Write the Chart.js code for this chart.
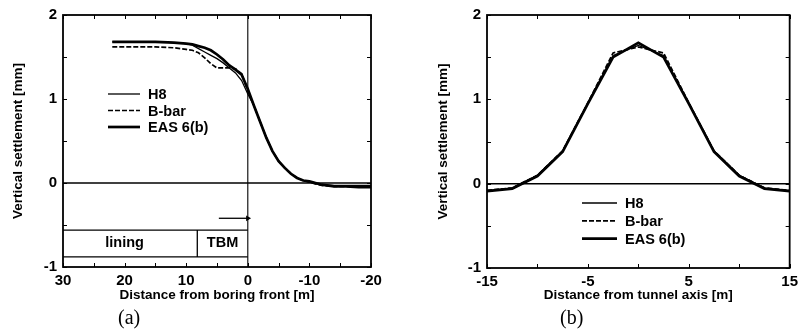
<!DOCTYPE html>
<html>
<head>
<meta charset="utf-8">
<script src="https://cdn.jsdelivr.net/npm/chart.js@4/dist/chart.umd.min.js"></script>
<style>
  body { margin: 0; background: #fff; }
  #wrap { position: relative; width: 803px; height: 336px; overflow: hidden; background: #fff; }
  canvas { position: absolute; top: 0; }
  #cvA { left: 0; }
  #cvB { left: 400px; }
  .tag { position: absolute; font: 20px "Liberation Serif", "DejaVu Serif", serif; color: #000; }
</style>
</head>
<body>
<div id="wrap">
  <canvas id="cvA" width="400" height="336"></canvas>
  <canvas id="cvB" width="403" height="336"></canvas>
  <div class="tag" style="left:118px;top:306px">(a)</div>
  <div class="tag" style="left:560px;top:306px">(b)</div>
</div>
<script>
// (a) settlement along the tunnel, x = distance from the boring front [m]
const frontDist = [22, 15, 12, 10, 9, 8, 7, 6, 5, 4, 3, 2, 1, 0, -1, -2, -3, -4, -5, -6, -7, -8, -9, -10, -11, -12, -14, -16, -18, -20];
const frontH8   = [1.68, 1.68, 1.67, 1.66, 1.64, 1.60, 1.56, 1.52, 1.48, 1.43, 1.37, 1.31, 1.22, 1.06, 0.92, 0.73, 0.54, 0.38, 0.26, 0.18, 0.11, 0.06, 0.03, 0.01, -0.01, -0.02, -0.03, -0.03, -0.03, -0.03];
const frontBbar = [1.62, 1.62, 1.61, 1.59, 1.58, 1.55, 1.49, 1.42, 1.37, 1.37, 1.37, 1.36, 1.30, 1.10, 0.92, 0.73, 0.54, 0.38, 0.26, 0.18, 0.11, 0.06, 0.03, 0.01, -0.01, -0.03, -0.04, -0.04, -0.05, -0.05];
const frontEAS  = [1.68, 1.68, 1.67, 1.66, 1.65, 1.63, 1.61, 1.58, 1.53, 1.47, 1.40, 1.35, 1.29, 1.12, 0.92, 0.73, 0.54, 0.38, 0.26, 0.18, 0.11, 0.06, 0.03, 0.02, 0.00, -0.02, -0.04, -0.04, -0.05, -0.05];

// shield sketch under the curve
const faceDist = 0;        // boring front
const liningEnd = 8.2;     // joint between lining and TBM
const shieldTop = -0.56;
const shieldBottom = -0.88;
const arrowStart = 4.7;
const arrowLevel = -0.42;

// (b) transverse trough, x = distance from the tunnel axis [m]
const axisDist = [-15, -12.5, -10, -7.5, -5, -2.5, 0, 2.5, 5, 7.5, 10, 12.5, 15];
const axisH8   = [-0.08, -0.05, 0.10, 0.39, 0.96, 1.52, 1.64, 1.52, 0.96, 0.39, 0.10, -0.05, -0.08];
const axisBbar = [-0.08, -0.05, 0.10, 0.39, 0.96, 1.55, 1.62, 1.55, 0.96, 0.39, 0.10, -0.05, -0.08];
const axisEAS  = [-0.09, -0.06, 0.09, 0.38, 0.95, 1.50, 1.67, 1.50, 0.95, 0.38, 0.09, -0.06, -0.09];

const seriesNames = ['H8', 'B-bar', 'EAS 6(b)'];
const yTicksMin = -1, yTicksMax = 2;

Chart.defaults.font.family = '"Liberation Sans", Arial, sans-serif';
Chart.defaults.color = '#000';
Chart.defaults.animation = false;

const pts = (xs, ys) => xs.map((x, i) => ({ x: x, y: ys[i] }));

// series styles: thin solid, dashed, thick solid
const styles = [
    { borderWidth: 1.3, borderDash: [] },
    { borderWidth: 1.7, borderDash: [5, 2] },
    { borderWidth: 2.7, borderDash: [] }
];

function seriesSets(xs, ysList) {
    return ysList.map((ys, i) => ({
        label: seriesNames[i],
        data: pts(xs, ys),
        borderColor: '#000',
        borderWidth: styles[i].borderWidth,
        borderDash: styles[i].borderDash,
        pointRadius: 0,
        tension: 0,
        fill: false,
        isSeries: true
    }));
}

function guide(data, width) {
    return { data: data, borderColor: '#000', borderWidth: width || 1, pointRadius: 0, fill: false, tension: 0 };
}

// frame with inward ticks on all four sides
const frameTicks = {
    id: 'frameTicks',
    afterDatasetsDraw(chart) {
        const { ctx, chartArea: a, scales } = chart;
        const len = 4;
        ctx.save();
        ctx.strokeStyle = '#000';
        ctx.lineWidth = 1;
        ctx.beginPath();
        scales.x.ticks.forEach(t => {
            const px = Math.round(scales.x.getPixelForValue(t.value)) + 0.5;
            ctx.moveTo(px, a.bottom); ctx.lineTo(px, a.bottom - len);
            ctx.moveTo(px, a.top); ctx.lineTo(px, a.top + len);
        });
        scales.y.ticks.forEach(t => {
            const py = Math.round(scales.y.getPixelForValue(t.value)) + 0.5;
            ctx.moveTo(a.left, py); ctx.lineTo(a.left + len, py);
            ctx.moveTo(a.right, py); ctx.lineTo(a.right - len, py);
        });
        ctx.stroke();
        ctx.lineWidth = 1.8;
        ctx.strokeRect(a.left, a.top, a.right - a.left, a.bottom - a.top);
        ctx.restore();
    }
};

// legend drawn inside the plot
const inLegend = {
    id: 'inLegend',
    afterDraw(chart, args, opts) {
        const { ctx, chartArea: a } = chart;
        ctx.save();
        ctx.font = 'bold 14.5px "Liberation Sans", Arial, sans-serif';
        ctx.fillStyle = '#000';
        ctx.textBaseline = 'middle';
        let row = 0;
        chart.data.datasets.forEach(ds => {
            if (!ds.isSeries) return;
            const y = a.top + opts.top + row * opts.rowH;
            ctx.strokeStyle = '#000';
            ctx.lineWidth = ds.borderWidth;
            ctx.setLineDash(ds.borderDash);
            ctx.beginPath();
            ctx.moveTo(a.left + opts.left, y);
            ctx.lineTo(a.left + opts.left + opts.len, y);
            ctx.stroke();
            ctx.setLineDash([]);
            ctx.fillText(ds.label, a.left + opts.left + opts.len + 8, y + 1);
            row++;
        });
        ctx.restore();
    }
};

// "lining" / "TBM" captions inside the shield sketch
const shieldText = {
    id: 'shieldText',
    afterDatasetsDraw(chart) {
        const { ctx, scales } = chart;
        const yMid = scales.y.getPixelForValue((shieldTop + shieldBottom) / 2);
        ctx.save();
        ctx.font = 'bold 14.5px "Liberation Sans", Arial, sans-serif';
        ctx.fillStyle = '#000';
        ctx.textAlign = 'center';
        ctx.textBaseline = 'middle';
        ctx.fillText('lining', scales.x.getPixelForValue(20), yMid);
        ctx.fillText('TBM', scales.x.getPixelForValue((liningEnd + faceDist) / 2), yMid);
        ctx.restore();
    }
};

function axes(xMin, xMax, reverse, xLabel, xTitle, yWidth, yTitlePad, xTitlePad) {
    return {
        x: {
            type: 'linear', min: xMin, max: xMax, reverse: reverse,
            grid: { display: false, drawTicks: false },
            border: { display: false },
            ticks: { stepSize: 5, padding: 5, maxRotation: 0, font: { size: 15, weight: 'bold' }, callback: xLabel },
            title: { display: true, text: xTitle, font: { size: 13.5, weight: 'bold' }, padding: { top: 0, bottom: xTitlePad } },
            afterFit(s) { s.height = 37; }
        },
        y: {
            min: yTicksMin, max: yTicksMax,
            grid: { display: false, drawTicks: false },
            border: { display: false },
            ticks: { stepSize: 0.5, padding: 6, font: { size: 15, weight: 'bold' },
                callback: v => Number.isInteger(v) ? v : '' },
            title: { display: true, text: 'Vertical settlement [mm]', font: { size: 13.5, weight: 'bold' }, padding: { top: yTitlePad, bottom: 0 } },
            afterFit(s) { s.width = yWidth; }
        }
    };
}

const arrow = guide(pts([arrowStart, faceDist], [arrowLevel, arrowLevel]), 1.3);
arrow.pointRadius = [0, 2];
arrow.pointStyle = 'triangle';
arrow.rotation = 90;
arrow.pointBackgroundColor = '#000';
arrow.pointBorderColor = '#000';

new Chart(document.getElementById('cvA'), {
    type: 'line',
    data: {
        datasets: [
            ...seriesSets(frontDist, [frontH8, frontBbar, frontEAS]),
            guide(pts([30, -20], [0, 0]), 1.5),
            guide(pts([faceDist, faceDist], [yTicksMin, yTicksMax]), 1.1),
            guide(pts([30, faceDist], [shieldTop, shieldTop]), 1.3),
            guide(pts([30, faceDist], [shieldBottom, shieldBottom]), 1.3),
            guide(pts([liningEnd, liningEnd], [shieldTop, shieldBottom]), 1.3),
            arrow
        ]
    },
    options: {
        responsive: false,
        devicePixelRatio: 1,
        layout: { padding: { left: 0, top: 15, right: 29, bottom: 32 } },
        plugins: {
            legend: { display: false },
            tooltip: { enabled: false },
            inLegend: { left: 45, top: 79, len: 32, rowH: 16.5 }
        },
        scales: axes(-20, 30, true, v => v % 10 === 0 ? v : '', 'Distance from boring front [m]', 63, 10, 1)
    },
    plugins: [frameTicks, inLegend, shieldText]
});

new Chart(document.getElementById('cvB'), {
    type: 'line',
    data: {
        datasets: [
            ...seriesSets(axisDist, [axisH8, axisBbar, axisEAS]),
            guide(pts([-15, 15], [0, 0]), 1.5)
        ]
    },
    options: {
        responsive: false,
        devicePixelRatio: 1,
        layout: { padding: { left: 0, top: 15, right: 8, bottom: 31 } },
        plugins: {
            legend: { display: false },
            tooltip: { enabled: false },
            inLegend: { left: 95, top: 188, len: 35, rowH: 17.8 }
        },
        scales: axes(-15, 15, false, v => v % 10 !== 0 ? v : '', 'Distance from tunnel axis [m]', 87, 35, 2)
    },
    plugins: [frameTicks, inLegend]
});
</script>
</body>
</html>
